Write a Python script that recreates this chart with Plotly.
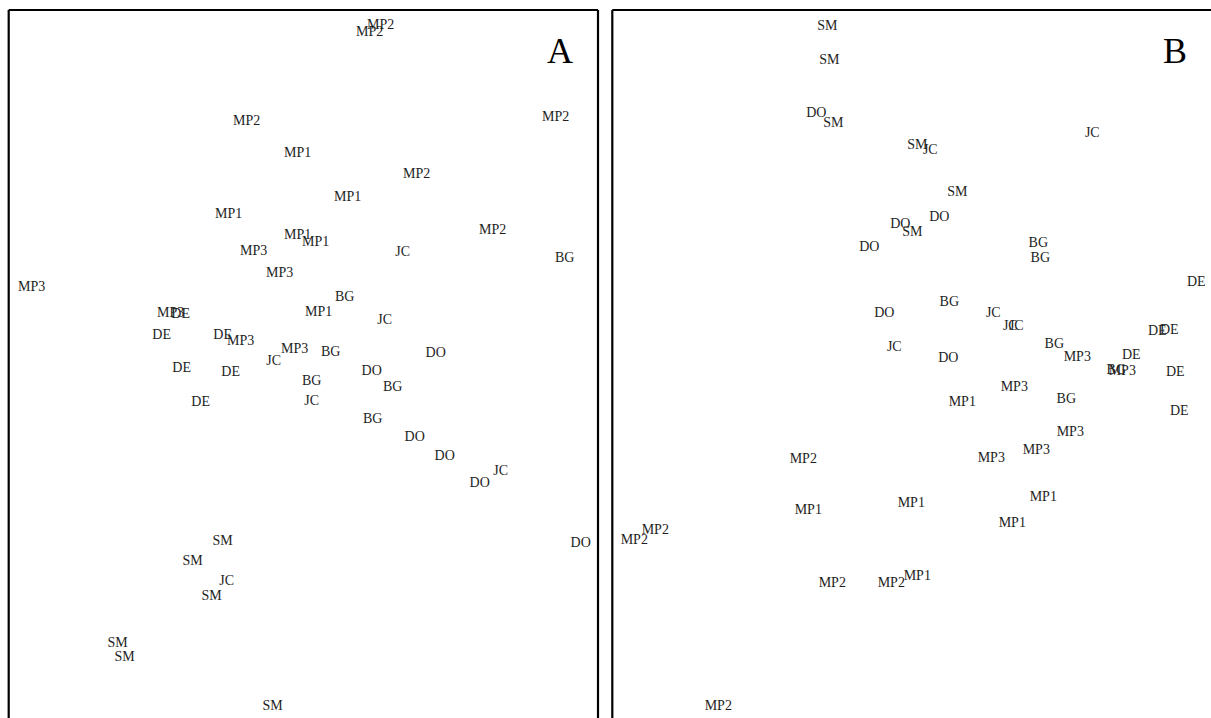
import plotly.graph_objects as go

# ---------------- Data (ordination scores, panel units) ----------------
# Panel A
labels_a = ["MP2", "MP2", "MP2", "MP2", "MP1", "MP2", "MP1", "MP1", "MP1", "MP1",
            "MP2", "MP3", "JC", "BG", "MP3", "MP3", "BG", "MP3", "DE", "MP1",
            "JC", "DE", "DE", "MP3", "MP3", "JC", "BG", "DO", "DE", "DE",
            "DO", "BG", "BG", "DE", "JC", "BG", "DO", "DO", "JC", "DO",
            "DO", "SM", "SM", "JC", "SM", "SM", "SM", "SM"]
axis1_a = [372, 361, 238, 547, 289, 408, 339, 220, 289, 307,
           484, 245, 394, 556, 271, 23, 336, 162, 172, 310,
           376, 153, 214, 232, 286, 265, 322, 427, 173, 222,
           363, 303, 384, 192, 303, 364, 406, 436, 492, 471,
           572, 214, 184, 218, 203, 109, 116, 264]
axis2_a = [693, 686, 597, 601, 565, 544, 521, 504, 483, 476,
           488, 467, 466, 460, 445, 431, 421, 405, 404, 406,
           398, 383, 383, 377, 369, 357, 366, 365, 350, 346,
           347, 337, 331, 316, 317, 299, 281, 262, 247, 235,
           175, 177, 157, 137, 122, 75, 61, 12]

# Panel B
labels_b = ["SM", "SM", "DO", "SM", "SM", "JC", "JC", "SM", "DO", "DO",
            "SM", "DO", "BG", "BG", "DE", "BG", "DO", "JC", "JC", "JC",
            "BG", "MP3", "DE", "DE", "DE", "BG", "MP3", "DE", "JC", "DO",
            "MP3", "MP1", "BG", "DE", "MP3", "MP3", "MP3", "MP2", "MP1", "MP1",
            "MP1", "MP2", "MP2", "MP1", "MP2", "MP2", "MP1", "MP2"]
axis1_b = [215, 217, 204, 221, 305, 318, 480, 345, 327, 288,
           300, 257, 426, 428, 584, 337, 272, 381, 398, 404,
           442, 465, 545, 557, 519, 504, 510, 563, 282, 336,
           402, 350, 454, 567, 458, 424, 379, 191, 431, 196,
           299, 43, 22, 400, 220, 279, 305, 106]
axis2_b = [692, 658, 605, 595, 573, 568, 585, 526, 501, 494,
           486, 471, 475, 460, 436, 416, 405, 405, 392, 392,
           374, 361, 387, 388, 363, 348, 347, 346, 371, 360,
           331, 316, 319, 307, 286, 268, 260, 259, 221, 208,
           215, 188, 178, 195, 135, 135, 142, 12]

panel_letters = ["A", "B"]

# ---------------- Figure ----------------
W, H = 1211, 718
text_font = dict(family="Liberation Serif, Times New Roman, serif", size=14, color="#1e1e1e")

fig = go.Figure()
fig.add_trace(go.Scatter(x=axis1_a, y=axis2_a, text=labels_a, mode="text",
                         textposition="middle center", textfont=text_font,
                         xaxis="x", yaxis="y", hoverinfo="skip", showlegend=False))
fig.add_trace(go.Scatter(x=axis1_b, y=axis2_b, text=labels_b, mode="text",
                         textposition="middle center", textfont=text_font,
                         xaxis="x2", yaxis="y2", hoverinfo="skip", showlegend=False))

ax_left_a, ax_right_a = 8.7 / W, 598 / W
ax_left_b = 612.3 / W
top = 1 - 10 / H

fig.update_layout(
    width=W, height=H, autosize=False,
    margin=dict(l=0, r=0, t=0, b=0),
    paper_bgcolor="white", plot_bgcolor="white",
    xaxis=dict(domain=[ax_left_a, ax_right_a], range=[0, 589.3], visible=False, fixedrange=True),
    yaxis=dict(domain=[0, top], range=[0, 708], visible=False, fixedrange=True),
    xaxis2=dict(domain=[ax_left_b, 1], range=[0, 598.7], visible=False, fixedrange=True),
    yaxis2=dict(domain=[0, top], range=[0, 708], visible=False, fixedrange=True),
    hovermode=False,
)

line = dict(color="black", width=2.2)
shapes = [
    dict(type="line", xref="paper", yref="paper", x0=ax_left_a, x1=ax_left_a, y0=-0.01, y1=top, line=line),
    dict(type="line", xref="paper", yref="paper", x0=ax_left_a, x1=ax_right_a, y0=top, y1=top, line=line),
    dict(type="line", xref="paper", yref="paper", x0=ax_right_a, x1=ax_right_a, y0=-0.01, y1=top, line=line),
    dict(type="line", xref="paper", yref="paper", x0=ax_left_b, x1=ax_left_b, y0=-0.01, y1=top, line=line),
    dict(type="line", xref="paper", yref="paper", x0=ax_left_b, x1=1.01, y0=top, y1=top, line=line),
]
fig.update_layout(shapes=shapes)

letter_font = dict(family="Liberation Serif, Times New Roman, serif", size=36, color="black")
fig.add_annotation(text=panel_letters[0], x=560 / W, y=1 - 51 / H, xref="paper", yref="paper",
                   showarrow=False, font=letter_font, xanchor="center", yanchor="middle")
fig.add_annotation(text=panel_letters[1], x=1175 / W, y=1 - 51 / H, xref="paper", yref="paper",
                   showarrow=False, font=letter_font, xanchor="center", yanchor="middle")

fig.write_html("out.html", config={"displayModeBar": False})
